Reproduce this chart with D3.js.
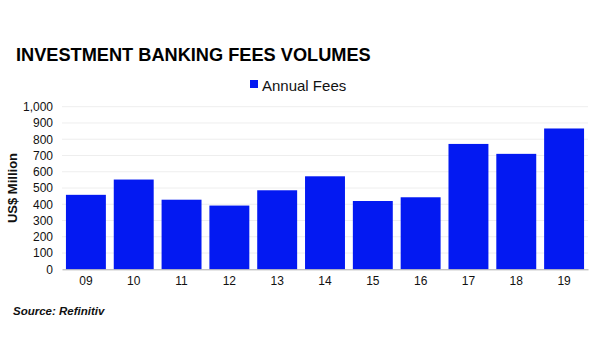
<!DOCTYPE html>
<html><head><meta charset="utf-8">
<script src="https://cdn.jsdelivr.net/npm/d3@7/dist/d3.min.js"></script>
<style>body{margin:0;background:#fff}svg{display:block}text{font-family:"Liberation Sans",Arial,sans-serif}</style>
</head><body><svg id="c" width="600" height="360"></svg>
<script>
const categories = ["09","10","11","12","13","14","15","16","17","18","19"];
const annualFees = [458, 552, 428, 392, 486, 572, 420, 443, 771, 710, 866];
const yTicks = [0,100,200,300,400,500,600,700,800,900,1000];
const seriesName = "Annual Fees";

const svg = d3.select("#c");
const m = {l:62, r:12, t:106.7, b:90.7};
const W = 600 - m.l - m.r, H = 360 - m.t - m.b;
const g = svg.append("g").attr("transform",`translate(${m.l},${m.t})`);
const x = d3.scaleBand().domain(categories).range([0,W]).paddingInner(0.165).paddingOuter(0.0825);
const y = d3.scaleLinear().domain([0,1000]).range([H,0]);

g.selectAll(".grid").data(yTicks.filter(d=>d>0)).join("line")
  .attr("x1",0).attr("x2",W).attr("y1",d=>y(d)).attr("y2",d=>y(d))
  .attr("stroke","#eeeeee").attr("stroke-width",1);

g.selectAll(".bar").data(annualFees).join("rect")
  .attr("x",(d,i)=>x(categories[i])).attr("width",x.bandwidth())
  .attr("y",d=>y(d)).attr("height",d=>H-y(d)).attr("fill","#0319f2");

const ya = g.append("g").call(d3.axisLeft(y).tickValues(yTicks).tickSize(0).tickPadding(9).tickFormat(d3.format(",")));
ya.select(".domain").remove();
ya.selectAll("text").attr("font-size",12).attr("fill","#111").attr("font-family","Liberation Sans, Arial");

const xa = g.append("g").attr("transform",`translate(0,${H})`).call(d3.axisBottom(x).tickSize(0).tickPadding(7));
xa.select(".domain").attr("stroke","#aaa");
xa.selectAll("text").attr("font-size",12).attr("fill","#111").attr("font-family","Liberation Sans, Arial");

svg.append("text").attr("transform",`translate(17,${m.t+H/2}) rotate(-90)`).attr("text-anchor","middle")
  .attr("font-size",13).attr("font-weight","bold").attr("fill","#111").text("US$ Million");

svg.append("text").attr("x",16).attr("y",61).attr("font-size",18.2).attr("font-weight","bold").attr("fill","#000")
  .text("INVESTMENT BANKING FEES VOLUMES");

svg.append("rect").attr("x",250).attr("y",80).attr("width",8).attr("height",8).attr("fill","#0319f2");
svg.append("text").attr("x",262).attr("y",91).attr("font-size",15).attr("fill","#111").text(seriesName);

svg.append("text").attr("x",13).attr("y",315).attr("font-size",11.5).attr("font-weight","bold").attr("font-style","italic")
  .attr("fill","#111").text("Source: Refinitiv");
</script></body></html>
